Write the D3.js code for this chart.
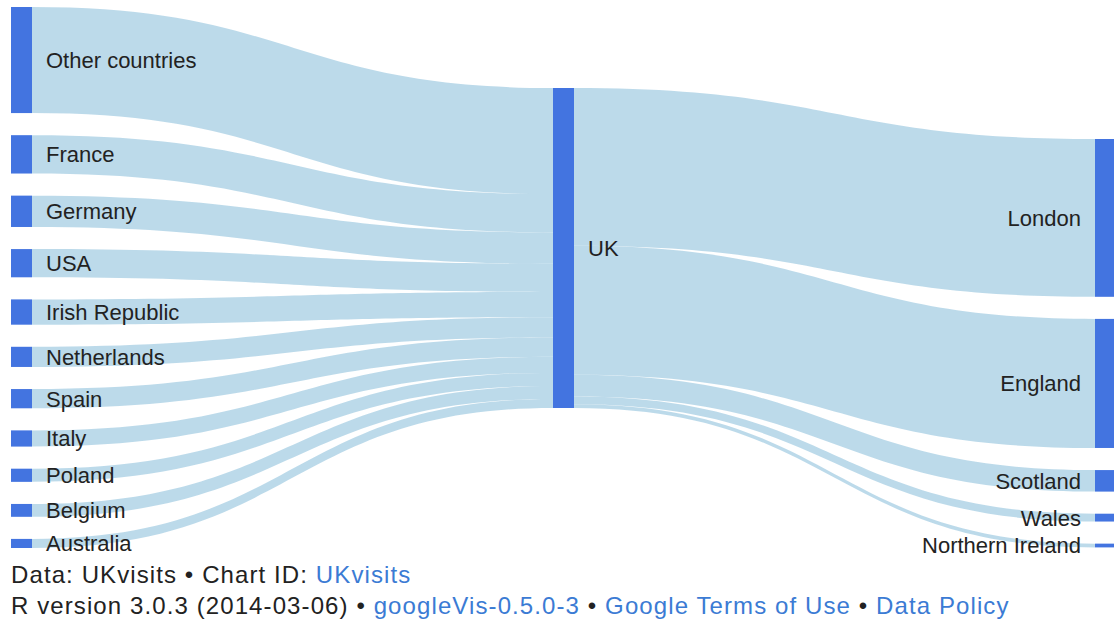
<!DOCTYPE html>
<html>
<head>
<meta charset="utf-8">
<script src="https://cdn.jsdelivr.net/npm/d3@7"></script>
<style>
  body { margin: 0; background: #fff; }
  svg text { font-family: "Liberation Sans", Arial, sans-serif; }
</style>
</head>
<body>
<div id="main-canvas"></div>
<script>
// Data: visits to the UK (thousands), by origin and by destination
const origins = ["Other countries", "France", "Germany", "USA", "Irish Republic", "Netherlands",
                 "Spain", "Italy", "Poland", "Belgium", "Australia"];
const originVisits = [10150, 3670, 3000, 2700, 2420, 1930, 1840, 1550, 1260, 1230, 870];

const hub = "UK";

const destinations = ["London", "England", "Scotland", "Wales", "Northern Ireland"];
const destVisits = [15100, 12350, 2060, 750, 360];

const footerLine1 = [["Data: UKvisits • Chart ID: ", false], ["UKvisits", true]];
const footerLine2 = [["R version 3.0.3 (2014-03-06) • ", false], ["googleVis-0.5.0-3", true], [" • ", false],
                     ["Google Terms of Use", true], [" • ", false], ["Data Policy", true]];

// Dimensions
let width = 1114;
let height = 621;

let svg = d3.select("#main-canvas").append("svg")
    .attr("width", width)
    .attr("height", height);

const nodeColor = "#4374e0";
const linkColor = "#a6cee3";
const nodeWidth = 21;
const nodePad = 22.1;

// column x positions and top offsets
const colX = d3.scaleOrdinal().domain([0, 1, 2]).range([11, 553, 1095]);
const colTop = [7, 88, 139];

const hubValue = Math.max(d3.sum(originVisits), d3.sum(destVisits));
const y = d3.scaleLinear().domain([0, hubValue]).range([0, 320]);

// build node layout
function stack(names, values, col) {
    let y0 = colTop[col];
    return names.map((n, i) => {
        let node = { name: n, value: values[i], col: col, x0: colX(col), y0: y0, y1: y0 + y(values[i]) };
        y0 = node.y1 + nodePad;
        return node;
    });
}
let left = stack(origins, originVisits, 0);
let mid = stack([hub], [hubValue], 1);
let right = stack(destinations, destVisits, 2);
let ukNode = mid[0];

// links
let links = [];
let inY = ukNode.y0, outY = ukNode.y0;
left.forEach(n => {
    let h = n.y1 - n.y0;
    links.push({ x0: n.x0 + nodeWidth, s0: n.y0, x1: ukNode.x0, t0: inY, h: h });
    inY += h;
});
right.forEach(n => {
    let h = n.y1 - n.y0;
    links.push({ x0: ukNode.x0 + nodeWidth, s0: outY, x1: n.x0, t0: n.y0, h: h });
    outY += h;
});

function band(d) {
    let xm = (d.x0 + d.x1) / 2;
    let p = d3.path();
    p.moveTo(d.x0, d.s0);
    p.bezierCurveTo(xm, d.s0, xm, d.t0, d.x1, d.t0);
    p.lineTo(d.x1, d.t0 + d.h);
    p.bezierCurveTo(xm, d.t0 + d.h, xm, d.s0 + d.h, d.x0, d.s0 + d.h);
    p.closePath();
    return p.toString();
}

svg.append("g")
    .attr("class", "links")
    .selectAll("path")
    .data(links)
    .enter().append("path")
    .attr("d", band)
    .attr("fill", linkColor)
    .attr("fill-opacity", 0.75);

let allNodes = left.concat(mid, right);

svg.append("g")
    .attr("class", "nodes")
    .selectAll("rect")
    .data(allNodes)
    .enter().append("rect")
    .attr("x", d => d.x0)
    .attr("y", d => d.y0)
    .attr("width", nodeWidth)
    .attr("height", d => Math.max(1, d.y1 - d.y0))
    .attr("fill", nodeColor);

svg.append("g")
    .attr("class", "labels")
    .selectAll("text")
    .data(allNodes)
    .enter().append("text")
    .attr("x", d => d.col == 2 ? d.x0 - 14 : d.x0 + nodeWidth + 14)
    .attr("y", d => (d.y0 + d.y1) / 2)
    .attr("dy", "0.36em")
    .attr("text-anchor", d => d.col == 2 ? "end" : "start")
    .attr("font-size", 22)
    .attr("fill", "#222")
    .text(d => d.name);

// footer
function footer(parts, yPos) {
    let t = svg.append("text")
        .attr("x", 11)
        .attr("y", yPos)
        .attr("font-size", 24)
        .attr("letter-spacing", "1.1px");
    parts.forEach(p => {
        t.append("tspan")
            .attr("fill", p[1] ? "#3b7bd4" : "#222")
            .text(p[0]);
    });
}
footer(footerLine1, 583);
footer(footerLine2, 614);
</script>
</body>
</html>
